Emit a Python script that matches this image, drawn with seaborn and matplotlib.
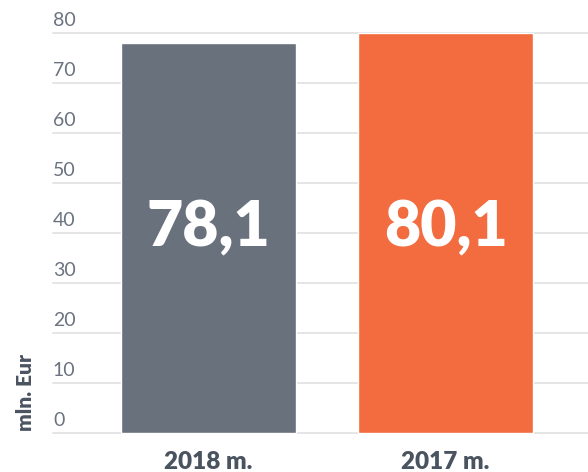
import matplotlib
matplotlib.use("Agg")
import matplotlib.pyplot as plt
import matplotlib.transforms as mtransforms
import seaborn as sns
import pandas as pd

categories = ["2018 m.", "2017 m."]
values = [78.1, 80.1]
value_labels = ["78,1", "80,1"]
bar_colors = ["#68717c", "#f26c40"]
y_ticks = [0, 10, 20, 30, 40, 50, 60, 70, 80]
y_label = "mln. Eur"

sns.set_theme(style="white")
plt.rcParams["font.family"] = ["Lato", "DejaVu Sans"]

df = pd.DataFrame({"cat": categories, "val": values})

fig = plt.figure(figsize=(5.88, 4.72), dpi=100)
ax = fig.add_axes([0.090, 0.0826, 0.910, 0.8474])

sns.barplot(data=df, x="cat", y="val", hue="cat", palette=bar_colors,
            width=0.738, legend=False, ax=ax, saturation=1)

ax.set_ylim(0, 80)
ax.set_xlim(-0.656, 1.601)
for p in ax.patches:
    p.set_clip_on(False)

for s in ax.spines.values():
    s.set_visible(False)

# gridlines
for t in y_ticks:
    ax.axhline(t, color="#e3e3e3", lw=1.3, zorder=0, clip_on=False)

ax.set_yticks([])
ax.set_ylabel("")
ax.set_xlabel("")

# y tick labels above gridlines, left-aligned
trans = mtransforms.blended_transform_factory(ax.transAxes, ax.transData)
offset = mtransforms.ScaledTranslation(0, 3 / 72, fig.dpi_scale_trans)
for t in y_ticks:
    ax.text(0.0, t, str(t), transform=trans + offset, ha="left", va="bottom",
            fontsize=14, color="#6b7380", fontweight="normal")

# x tick labels
ax.tick_params(axis="x", length=0, pad=13)
ax.set_xticks(range(len(categories)))
ax.set_xticklabels(categories, fontsize=17.5, fontweight="heavy", color="#4a5360")

# value labels
for i, (v, lab) in enumerate(zip(values, value_labels)):
    ax.text(i, 41, lab, ha="center", va="center", fontsize=45,
            fontweight="heavy", color="white")

# y label
fig.text(0.043, 0.086, y_label, rotation=90, ha="center", va="bottom",
         fontsize=15, fontweight="heavy", color="#4a5360")

fig.savefig("out.png", dpi=100)
